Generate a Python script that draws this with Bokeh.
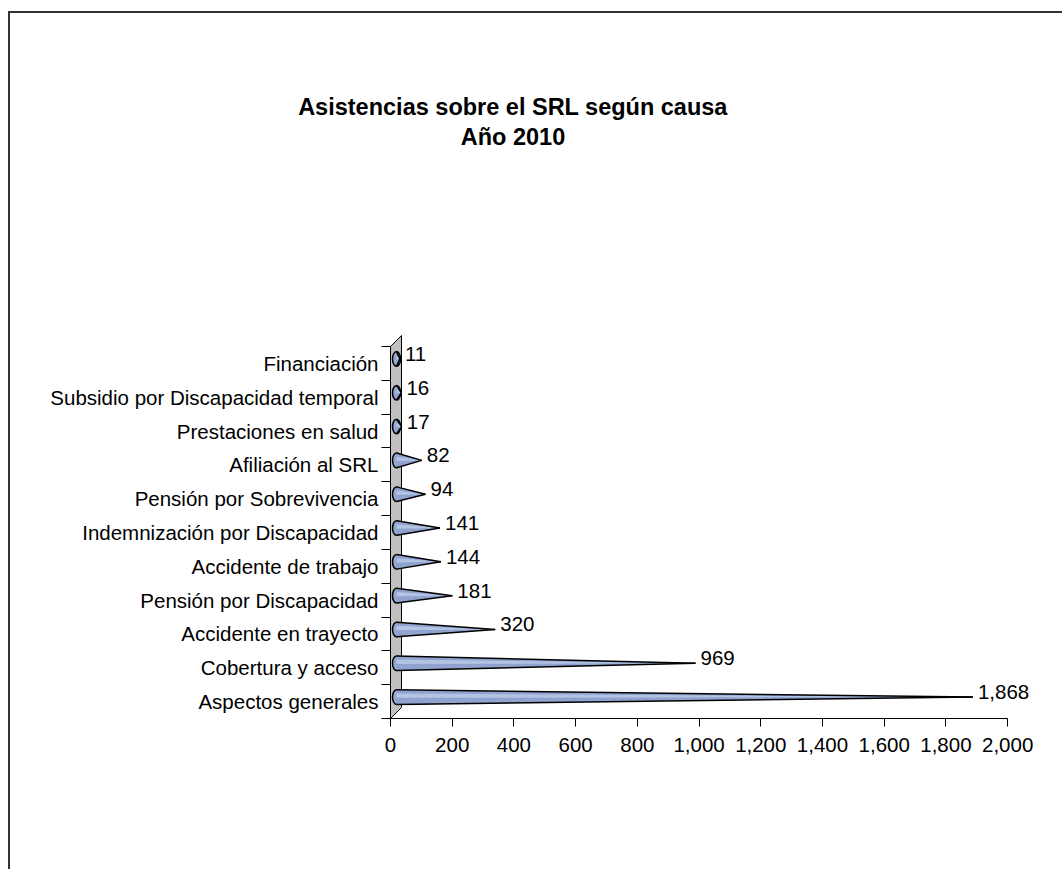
from bokeh.plotting import figure
from bokeh.models import Range1d, FixedTicker, NumeralTickFormatter, Title, ColumnDataSource, InlineStyleSheet
from bokeh.embed import file_html
from bokeh.resources import INLINE
from bokeh.core.properties import value

# ---- data ----
categories = ["Aspectos generales", "Cobertura y acceso", "Accidente en trayecto",
              "Pensión por Discapacidad", "Accidente de trabajo",
              "Indemnización por Discapacidad", "Pensión por Sobrevivencia",
              "Afiliación al SRL", "Prestaciones en salud",
              "Subsidio por Discapacidad temporal", "Financiación"]
values = [1868, 969, 320, 181, 144, 141, 94, 82, 17, 16, 11]
x_ticks = [0, 200, 400, 600, 800, 1000, 1200, 1400, 1600, 1800, 2000]
title_lines = ["Asistencias  sobre el SRL según causa", "Año 2010"]

FONT = "Liberation Sans"
FS = "20.5px"
TFS = 23.5

# ---- geometry (canvas pixels) ----
W, H = 1062, 869
fl, ft, fb = 390, 330, 718          # frame left / top / bottom
cat_top = 346                       # top boundary of category band
x_end = 2100
px_x = 617 / 2000.0
frame_w = round(x_end * px_x)
fr = fl + frame_w
n = len(categories)
px_y = (fb - cat_top) / n
y0 = -0.5
y1 = n - 0.5 + (cat_top - ft) / px_y

p = figure(width=W, height=H, output_backend="svg", toolbar_location=None,
           x_range=Range1d(0, x_end), y_range=Range1d(y0, y1),
           min_border_left=fl, min_border_right=W - fr,
           min_border_top=ft, min_border_bottom=H - fb)
p.outline_line_color = None
p.grid.visible = False
p.background_fill_color = "white"
p.border_fill_color = "white"

# outer chart-area border (drawn by CSS on the figure element)
p.stylesheets = [InlineStyleSheet(css="""
:host { position: relative; }
:host::after { content: ""; position: absolute; left: 8px; top: 11px;
  width: 1100px; height: 900px; border: 2px solid #333333;
  box-sizing: border-box; pointer-events: none; }
""")]

# 3D depth shifts (pixels)
cone_dx, cone_dy = 6.0, 4.5
p.extra_x_ranges = {"cone": Range1d(-cone_dx / px_x, x_end - cone_dx / px_x)}
p.extra_y_ranges = {"cone": Range1d(y0 - cone_dy / px_y, y1 - cone_dy / px_y)}

# back wall
wall_d = 11.0
dx, dy = wall_d / px_x, wall_d / px_y
p.patch([0, dx, dx, 0], [y0, y0 + dy, n - 0.5 + dy, n - 0.5],
        fill_color="#C0C0C0", line_color="black", line_width=1)

# cones
idx = list(range(n))
hp = 7.3
h = hp / px_y
src = ColumnDataSource(dict(
    xs=[[0, v, 0] for v in values],
    ys=[[i + h, i, i - h] for i in idx],
    hx=[[0, v, 0] for v in values],
    hy=[[i + 0.5 * h, i, i - 0.1 * h] for i in idx],
    x=[0] * n, y=idx, v=values,
    lab=[f"{v:,}" for v in values],
    ex=[[0, v] for v in values], ety=[[i + h, i] for i in idx], eby=[[i - h, i] for i in idx],
))
common = dict(source=src, x_range_name="cone", y_range_name="cone")
p.ellipse(x="x", y="y", width=8, height=2 * hp, width_units="screen", height_units="screen",
          fill_color="#93A7D2", line_color="black", line_width=1.5, **common)
p.patches(xs="xs", ys="ys", fill_color="#8FA3CE", line_color=None, **common)
p.patches(xs="hx", ys="hy", fill_color="#B3C3E3", line_color=None, **common)
p.multi_line(xs="ex", ys="ety", line_color="black", line_width=1.5, **common)
p.multi_line(xs="ex", ys="eby", line_color="black", line_width=1.5, **common)

p.text(x="v", y="y", text="lab", x_offset=5, y_offset=-5, text_baseline="middle",
       text_align="left", text_font=value(FONT), text_font_size=FS,
       text_color="black", **common)

# axes
xa = p.xaxis[0]
xa.ticker = FixedTicker(ticks=x_ticks, minor_ticks=[])
xa.formatter = NumeralTickFormatter(format="0,0")
xa.bounds = (0, 2000)
xa.major_tick_out = 8
xa.major_tick_in = 0
xa.minor_tick_out = 0
xa.minor_tick_in = 0
xa.major_label_standoff = 11
xa.major_label_text_font = FONT
xa.major_label_text_font_size = FS
xa.major_label_text_color = "black"
xa.axis_line_color = "black"
xa.major_tick_line_color = "black"

ya = p.yaxis[0]
ya.ticker = FixedTicker(ticks=idx, minor_ticks=[i - 0.5 for i in range(n + 1)])
ya.major_label_overrides = {i: c for i, c in enumerate(categories)}
ya.bounds = (-0.5, n - 0.5)
ya.major_tick_out = 0
ya.major_tick_in = 0
ya.minor_tick_out = 9
ya.minor_tick_in = 0
ya.minor_tick_line_color = "black"
ya.major_label_standoff = 3
ya.major_label_text_font = FONT
ya.major_label_text_font_size = FS
ya.major_label_text_color = "black"
ya.axis_line_color = "black"

# title: two lines centred at canvas x = 512.5 (rendered widths in em)
p.title.text = ""
# invisible spacer between the plot area and the title block
p.add_layout(Title(text=" ", text_font_size="10px", standoff=167, text_color="white"), "above")
title_em = [18.285, 4.446]
title_cx = 512.5
for t, em in zip(reversed(title_lines), reversed(title_em)):
    left = title_cx - em * TFS / 2
    p.add_layout(Title(text=t, align="left", offset=left - fl, standoff=2,
                       text_font=FONT, text_font_size=f"{TFS}px", text_font_style="bold",
                       text_color="black", vertical_align="bottom"), "above")

open("out.html", "w").write(file_html(p, INLINE))
